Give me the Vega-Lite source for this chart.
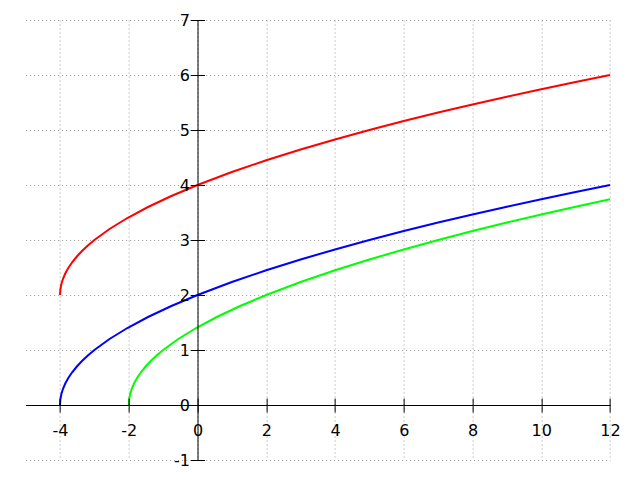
{
  "$schema": "https://vega.github.io/schema/vega-lite/v6.json",
  "width": 584.375,
  "height": 440,
  "autosize": {"type": "none"},
  "padding": {"left": 25.625, "top": 20, "right": 30, "bottom": 20},
  "background": "white",
  "config": {
    "view": {"stroke": null},
    "axis": {
      "labelFont": "DejaVu Sans",
      "labelFontSize": 16,
      "labelColor": "black",
      "domainColor": "black",
      "tickColor": "black",
      "domainWidth": 1,
      "tickWidth": 1,
      "title": null,
      "labelFlush": false,
      "labelOverlap": false,
      "gridColor": "#999999",
      "gridDash": [1, 3],
      "gridWidth": 1,
      "gridOpacity": 1
    }
  },
  "data": {
    "values": [
      {"x": -4, "y": 0, "s": "blue"}, {"x": -3.99, "y": 0.1, "s": "blue"}, {"x": -3.96, "y": 0.2, "s": "blue"}, {"x": -3.91, "y": 0.3, "s": "blue"}, {"x": -3.84, "y": 0.4, "s": "blue"}, {"x": -3.75, "y": 0.5, "s": "blue"}, {"x": -3.64, "y": 0.6, "s": "blue"}, {"x": -3.51, "y": 0.7, "s": "blue"}, {"x": -3.36, "y": 0.8, "s": "blue"}, {"x": -3.19, "y": 0.9, "s": "blue"}, {"x": -3, "y": 1, "s": "blue"}, {"x": -2.56, "y": 1.2, "s": "blue"}, {"x": -2.04, "y": 1.4, "s": "blue"}, {"x": -1.44, "y": 1.6, "s": "blue"}, {"x": -0.76, "y": 1.8, "s": "blue"}, {"x": 0, "y": 2, "s": "blue"}, {"x": 1, "y": 2.2361, "s": "blue"}, {"x": 2, "y": 2.4495, "s": "blue"}, {"x": 3, "y": 2.6458, "s": "blue"}, {"x": 4, "y": 2.8284, "s": "blue"}, {"x": 5, "y": 3, "s": "blue"}, {"x": 6, "y": 3.1623, "s": "blue"}, {"x": 7, "y": 3.3166, "s": "blue"}, {"x": 8, "y": 3.4641, "s": "blue"}, {"x": 9, "y": 3.6056, "s": "blue"}, {"x": 10, "y": 3.7417, "s": "blue"}, {"x": 11, "y": 3.873, "s": "blue"}, {"x": 12, "y": 4, "s": "blue"},
      {"x": -4, "y": 2, "s": "red"}, {"x": -3.99, "y": 2.1, "s": "red"}, {"x": -3.96, "y": 2.2, "s": "red"}, {"x": -3.91, "y": 2.3, "s": "red"}, {"x": -3.84, "y": 2.4, "s": "red"}, {"x": -3.75, "y": 2.5, "s": "red"}, {"x": -3.64, "y": 2.6, "s": "red"}, {"x": -3.51, "y": 2.7, "s": "red"}, {"x": -3.36, "y": 2.8, "s": "red"}, {"x": -3.19, "y": 2.9, "s": "red"}, {"x": -3, "y": 3, "s": "red"}, {"x": -2.56, "y": 3.2, "s": "red"}, {"x": -2.04, "y": 3.4, "s": "red"}, {"x": -1.44, "y": 3.6, "s": "red"}, {"x": -0.76, "y": 3.8, "s": "red"}, {"x": 0, "y": 4, "s": "red"}, {"x": 1, "y": 4.2361, "s": "red"}, {"x": 2, "y": 4.4495, "s": "red"}, {"x": 3, "y": 4.6458, "s": "red"}, {"x": 4, "y": 4.8284, "s": "red"}, {"x": 5, "y": 5, "s": "red"}, {"x": 6, "y": 5.1623, "s": "red"}, {"x": 7, "y": 5.3166, "s": "red"}, {"x": 8, "y": 5.4641, "s": "red"}, {"x": 9, "y": 5.6056, "s": "red"}, {"x": 10, "y": 5.7417, "s": "red"}, {"x": 11, "y": 5.873, "s": "red"}, {"x": 12, "y": 6, "s": "red"},
      {"x": -2, "y": 0, "s": "green"}, {"x": -1.99, "y": 0.1, "s": "green"}, {"x": -1.96, "y": 0.2, "s": "green"}, {"x": -1.91, "y": 0.3, "s": "green"}, {"x": -1.84, "y": 0.4, "s": "green"}, {"x": -1.75, "y": 0.5, "s": "green"}, {"x": -1.64, "y": 0.6, "s": "green"}, {"x": -1.51, "y": 0.7, "s": "green"}, {"x": -1.36, "y": 0.8, "s": "green"}, {"x": -1.19, "y": 0.9, "s": "green"}, {"x": -1, "y": 1, "s": "green"}, {"x": -0.56, "y": 1.2, "s": "green"}, {"x": -0.04, "y": 1.4, "s": "green"}, {"x": 0.56, "y": 1.6, "s": "green"}, {"x": 1.24, "y": 1.8, "s": "green"}, {"x": 2, "y": 2, "s": "green"}, {"x": 3, "y": 2.2361, "s": "green"}, {"x": 4, "y": 2.4495, "s": "green"}, {"x": 5, "y": 2.6458, "s": "green"}, {"x": 6, "y": 2.8284, "s": "green"}, {"x": 7, "y": 3, "s": "green"}, {"x": 8, "y": 3.1623, "s": "green"}, {"x": 9, "y": 3.3166, "s": "green"}, {"x": 10, "y": 3.4641, "s": "green"}, {"x": 11, "y": 3.6056, "s": "green"}, {"x": 12, "y": 3.7417, "s": "green"}
    ]
  },
  "resolve": {"axis": {"x": "independent", "y": "independent"}},
  "layer": [
    {
      "transform": [{"filter": "datum.s === 'green'"}],
      "mark": {"type": "line", "color": "#00ff00", "strokeWidth": 2, "clip": false},
      "encoding": {
        "x": {"field": "x", "type": "quantitative", "scale": {"domain": [-5, 12], "nice": false, "zero": false},
          "axis": {"orient": "bottom", "grid": true, "domain": false, "ticks": false, "labels": false, "values": [-4, -2, 0, 2, 4, 6, 8, 10, 12], "zindex": 0}},
        "y": {"field": "y", "type": "quantitative", "scale": {"domain": [-1, 7], "nice": false, "zero": false},
          "axis": {"orient": "left", "grid": true, "domain": false, "ticks": false, "labels": false, "values": [-1, 0, 1, 2, 3, 4, 5, 6, 7], "zindex": 0}}
      }
    },
    {
      "transform": [{"filter": "datum.s === 'blue'"}],
      "mark": {"type": "line", "color": "#0000ff", "strokeWidth": 2, "clip": false},
      "encoding": {
        "x": {"field": "x", "type": "quantitative", "scale": {"domain": [-5, 12], "nice": false, "zero": false},
          "axis": {"orient": "bottom", "offset": -55, "grid": false, "tickSize": 7, "labelPadding": 10, "values": [-4, -2, 0, 2, 4, 6, 8, 10, 12], "labelExpr": "datum.value < 0 ? '-' + abs(datum.value) : '' + datum.value", "zindex": 1}},
        "y": {"field": "y", "type": "quantitative", "scale": {"domain": [-1, 7], "nice": false, "zero": false},
          "axis": {"orient": "left", "offset": -171.875, "grid": false, "tickSize": 7, "labelPadding": 1, "values": [-1, 0, 1, 2, 3, 4, 5, 6, 7], "labelExpr": "datum.value < 0 ? '-' + abs(datum.value) : '' + datum.value", "zindex": 1}}
      }
    },
    {
      "transform": [{"filter": "datum.s === 'red'"}],
      "mark": {"type": "line", "color": "#ff0000", "strokeWidth": 2, "clip": false},
      "encoding": {
        "x": {"field": "x", "type": "quantitative", "scale": {"domain": [-5, 12], "nice": false, "zero": false},
          "axis": {"orient": "top", "offset": -385, "grid": false, "domain": false, "labels": false, "tickSize": 7, "values": [-4, -2, 0, 2, 4, 6, 8, 10, 12], "zindex": 1}},
        "y": {"field": "y", "type": "quantitative", "scale": {"domain": [-1, 7], "nice": false, "zero": false},
          "axis": {"orient": "right", "offset": -412.5, "grid": false, "domain": false, "labels": false, "tickSize": 7, "values": [-1, 0, 1, 2, 3, 4, 5, 6, 7], "zindex": 1}}
      }
    }
  ]
}
